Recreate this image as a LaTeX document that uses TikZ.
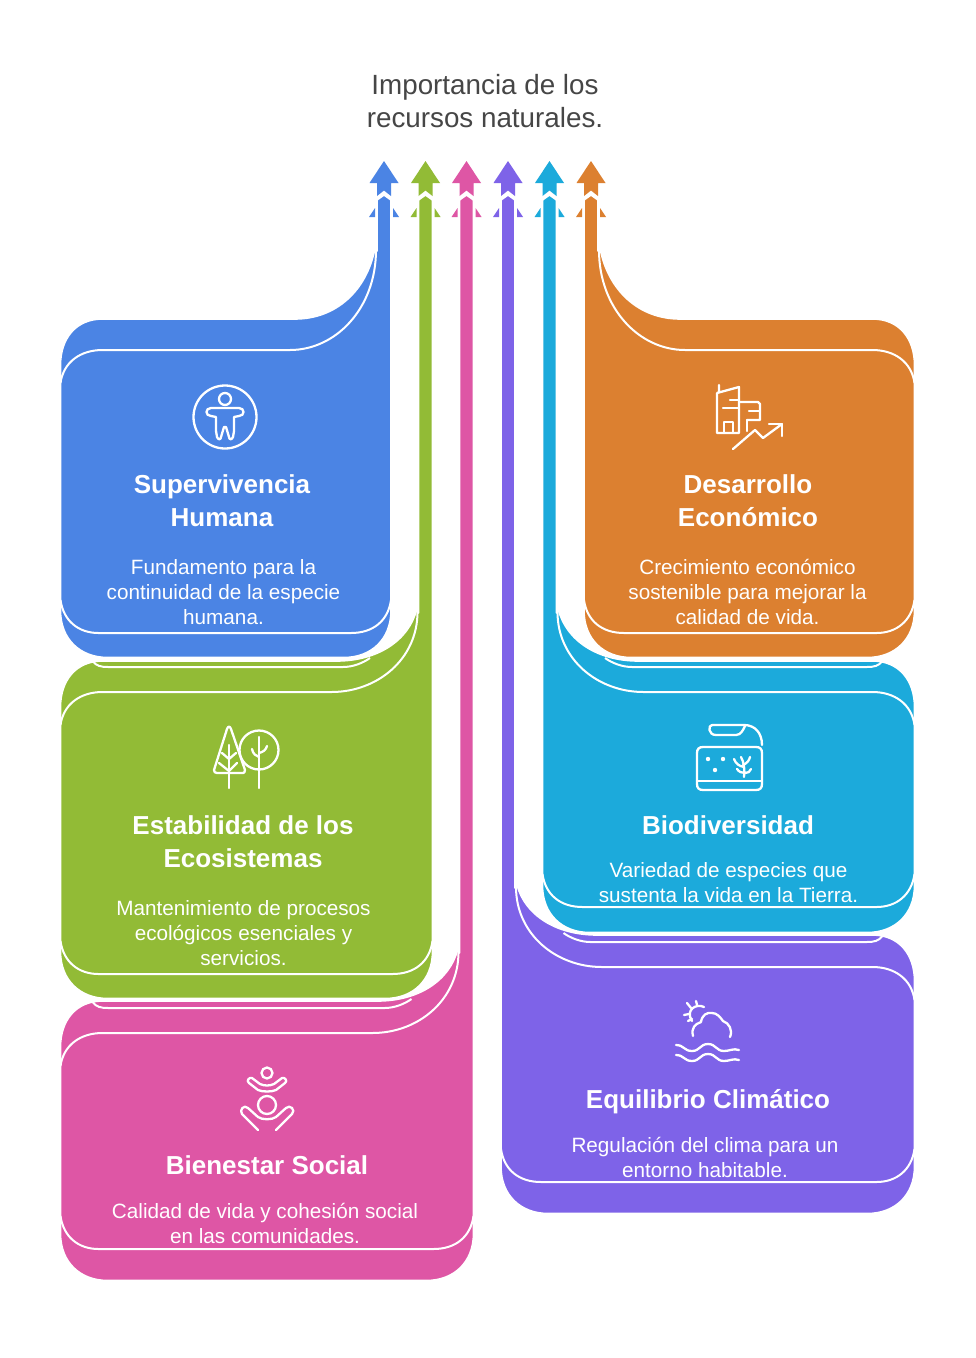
\documentclass[tikz,border=0pt]{standalone}
\usepackage{fontspec}
\setmainfont{Liberation Sans}
\definecolor{cblue}{RGB}{75,132,228}
\definecolor{cgreen}{RGB}{146,187,54}
\definecolor{cpink}{RGB}{222,86,165}
\definecolor{cpurple}{RGB}{126,99,232}
\definecolor{ccyan}{RGB}{28,170,219}
\definecolor{corange}{RGB}{220,128,48}
\definecolor{ctext}{RGB}{70,70,70}
% #1 colour, #2 width from far edge, #3 tip y, #4 outer y, #5 inner y, #6 lower line y, #7 bottom y
\newcommand{\panelshape}[7]{%
  \pgfmathsetmacro{\ctrlA}{#3+0.6*(#4-#3)}
  \pgfmathsetmacro{\ctrlB}{#3+0.55*(#5-#3)}
  \fill[#1,draw=white,line width=1.6pt,line join=round]
    (#2-14,200) -- (#2-14,#3+3) -- (#2-16,#3)
    .. controls (#2-24,\ctrlA) and (#2-55,#4) .. (#2-96,#4)
    -- (42,#4) .. controls (15,#4) and (0,#4+20) .. (0,#4+46)
    -- (0,#7-47) .. controls (0,#7-18) and (20,#7) .. (47,#7)
    -- (#2-47,#7) .. controls (#2-20,#7) and (#2,#7-18) .. (#2,#7-47)
    -- (#2,200) -- (#2-7,195) -- cycle;
  \draw[white,line width=2pt]
    (0,#5+33) .. controls (3,#5+12) and (20,#5) .. (42,#5)
    -- (#2-101,#5) .. controls (#2-55,#5) and (#2-15,\ctrlB+4) .. (#2-15,#3+2);
  \draw[white,line width=2pt]
    (0,#6-33) .. controls (3,#6-12) and (18,#6) .. (38,#6)
    -- (#2-40,#6) .. controls (#2-18,#6) and (#2-3,#6-12) .. (#2,#6-33);
  \fill[#1] (#2-7,161) -- (#2+7.5,183) -- (#2,183) -- (#2,196) -- (#2-7,190.5)
    -- (#2-14,196) -- (#2-14,183) -- (#2-21.5,183) -- cycle;
  \fill[#1] (#2-16,208) -- (#2-16,217) -- (#2-22,217) -- cycle;
  \fill[#1] (#2+2,208) -- (#2+2,217) -- (#2+8,217) -- cycle;
}
% fold line just below the panel of width #1 and bottom #2
\newcommand{\foldline}[2]{%
  \draw[white,line width=2pt] (32,#2+4) .. controls (36,#2+9) and (40,#2+10) .. (48,#2+10)
    -- (#1-48,#2+10) .. controls (#1-38,#2+10) and (#1-28,#2+6) .. (#1-21,#2+1);
}
\tikzset{
  ttl/.style={text=white,align=center,font=\fontsize{26}{33}\selectfont\bfseries,inner sep=0pt},
  bdy/.style={text=white,align=center,font=\fontsize{20.7}{25}\selectfont,inner sep=0pt},
  icon/.style={draw=white,line width=2.3pt,line cap=round,line join=round}
}
\begin{document}
\begin{tikzpicture}[x=1pt,y=-1pt]
\useasboundingbox (0,0) rectangle (975,1358);
\fill[white] (0,0) rectangle (975,1358);
\begin{scope}[xshift=60.5pt]
  \panelshape{cpink}{413}{950}{1001}{1033}{1249}{1280.5}
  \foldline{372}{998}
  \panelshape{cgreen}{372}{610}{661}{692}{974}{998.5}
  \foldline{330.5}{657}
  \panelshape{cblue}{330.5}{248}{319}{350}{633}{657.5}
\end{scope}
\begin{scope}[xshift=914.5pt,xscale=-1]
  \panelshape{cpurple}{413.5}{885}{935}{967}{1182}{1213.5}
  \foldline{372}{932}
  \panelshape{ccyan}{372}{610}{661}{692}{907}{932.5}
  \foldline{330.5}{657}
  \panelshape{corange}{330.5}{248}{319}{350}{633}{657.5}
\end{scope}
% header
\node (head) at (485,101) [text=ctext,align=center,inner sep=0pt,font=\fontsize{27.8}{33}\selectfont] {Importancia de los\\recursos naturales.};
% texts
\node (t1) at (222,500.5) [ttl] {Supervivencia\\Humana};
\node (b1) at (223.5,592) [bdy] {Fundamento para la\\continuidad de la especie\\humana.};
\node (t2) at (243,841.5) [ttl] {Estabilidad de los\\Ecosistemas};
\node (b2) at (243.5,933) [bdy] {Mantenimiento de procesos\\ecológicos esenciales y\\servicios.};
\node (t3) at (267,1165.5) [ttl] {Bienestar Social};
\node (b3) at (265,1223) [bdy] {Calidad de vida y cohesión social\\en las comunidades.};
\node (t4) at (748,500.5) [ttl] {Desarrollo\\Económico};
\node (b4) at (747.5,592) [bdy] {Crecimiento económico\\sostenible para mejorar la\\calidad de vida.};
\node (t5) at (728,825) [ttl] {Biodiversidad};
\node (b5) at (728.5,883) [bdy] {Variedad de especies que\\sustenta la vida en la Tierra.};
\node (t6) at (708,1101.5) [ttl] {Equilibrio Climático};
\node (b6) at (705,1157) [bdy] {Regulación del clima para un\\entorno habitable.};
% icon: person in circle
\draw[icon] (225,417) circle (31.5);
\draw[icon] (225,399) circle (6);
\draw[icon] (211,408) -- (239,408) .. controls (245,408) and (245,416) .. (239,416)
  -- (234,417) -- (234,431) -- (233,437) .. controls (232,440) and (229,440) .. (229,437)
  -- (226,427) -- (224,427) -- (221,437) .. controls (221,440) and (218,440) .. (217,437)
  -- (216,431) -- (216,417) -- (211,416) .. controls (205,416) and (205,408) .. (211,408) -- cycle;
% icon: trees
\draw[icon] (227,729) .. controls (228,726) and (230,726) .. (231,729) -- (245,770)
  .. controls (245,772) and (244,773) .. (243,773) -- (217,773) .. controls (215,773) and (214,772) .. (214,770) -- cycle;
\draw[icon] (229,745) -- (229,788);
\draw[icon] (222,753) -- (229,759) -- (236,753);
\draw[icon] (219,763) -- (229,771) -- (237,763);
\draw[icon,fill=cgreen] (259,750) circle (19.5);
\draw[icon] (259,737) -- (259,788);
\draw[icon] (252,749) .. controls (253,754) and (256,756) .. (259,757);
\draw[icon] (267,746) .. controls (266,750) and (263,752) .. (259,753);
% icon: buildings and arrow
\draw[icon] (719,385) -- (719,392) (717,393) -- (739,387) -- (739,433) -- (717,433) -- (717,393);
\draw[icon] (730,400) -- (739,400) (723,408) -- (739,408);
\draw[icon] (724,433) -- (724,422) -- (733,422) -- (733,433);
\draw[icon] (739,402) -- (758,402) -- (760,404) -- (760,420) -- (747,420);
\draw[icon] (749,411) -- (760,411) (747,420) -- (747,431);
\draw[icon] (733,449) -- (755,430) -- (763,438) -- (782,424);
\draw[icon] (769,424) -- (782,424) -- (782,436);
% icon: aquarium
\draw[icon] (703,747) -- (756,747) .. controls (760,747) and (762,749) .. (762,753) -- (762,784)
  .. controls (762,788) and (760,790) .. (756,790) -- (703,790) .. controls (699,790) and (697,788) .. (697,784)
  -- (697,753) .. controls (697,749) and (699,747) .. (703,747) -- cycle;
\draw[icon] (697,781) -- (762,781);
\draw[icon] (712,725) -- (744,725) .. controls (755,725) and (762,733) .. (762,745);
\draw[icon] (712,725) .. controls (708,725) and (708,735) .. (716,735) -- (736,735) .. controls (741,735) and (743,730) .. (745,726);
\fill[white] (708,759) circle (2.2) (723,759) circle (2.2) (715,770) circle (2.2);
\draw[icon] (744,777) .. controls (745,770) and (744,762) .. (741,757);
\draw[icon] (734,759) .. controls (736,764) and (739,766) .. (744,767);
\draw[icon] (750,757) .. controls (749,761) and (747,763) .. (743,765);
\draw[icon] (737,769) .. controls (739,772) and (742,773) .. (745,773);
\draw[icon] (751,769) .. controls (750,772) and (748,773) .. (745,773);
% icon: sun, cloud, waves
\draw[icon] (704,1007) .. controls (696,1003) and (685,1010) .. (692,1021);
\draw[icon] (687,1003) -- (691,1008) (696,1001) -- (697,1005) (684,1015) -- (689,1014) (688,1021) -- (692,1019);
\draw[icon] (693,1036) .. controls (691,1028) and (695,1024) .. (701,1022)
  .. controls (702,1015) and (707,1012) .. (712,1013)
  .. controls (717,1013) and (720,1017) .. (723,1021)
  .. controls (729,1023) and (733,1030) .. (730,1037);
\draw[icon] (676,1045) .. controls (684,1045) and (684,1051) .. (692,1051)
  .. controls (700,1051) and (700,1044) .. (708,1044)
  .. controls (716,1044) and (716,1051) .. (724,1051)
  .. controls (730,1051) and (733,1048) .. (739,1050);
\draw[icon] (676,1055) .. controls (684,1055) and (684,1061) .. (692,1061)
  .. controls (700,1061) and (700,1054) .. (708,1054)
  .. controls (716,1054) and (716,1061) .. (724,1061)
  .. controls (730,1061) and (733,1058) .. (739,1060);
% icon: two figures
\draw[icon] (267,1073) circle (5.5);
\draw[icon] (252,1078) -- (260,1084) .. controls (264,1086) and (270,1086) .. (274,1084) -- (282,1078)
  .. controls (285,1077) and (288,1081) .. (285,1083) -- (276,1090) .. controls (272,1092) and (262,1092) .. (258,1090)
  -- (249,1083) .. controls (246,1081) and (249,1077) .. (252,1078) -- cycle;
\draw[icon] (267,1105) circle (9);
\draw[icon] (258,1130) -- (242,1114) .. controls (239,1110) and (244,1104) .. (248,1108) -- (258,1117)
  .. controls (262,1120) and (272,1120) .. (276,1117) -- (286,1108) .. controls (290,1104) and (296,1110) .. (292,1114) -- (276,1130);
\end{tikzpicture}
\end{document}
